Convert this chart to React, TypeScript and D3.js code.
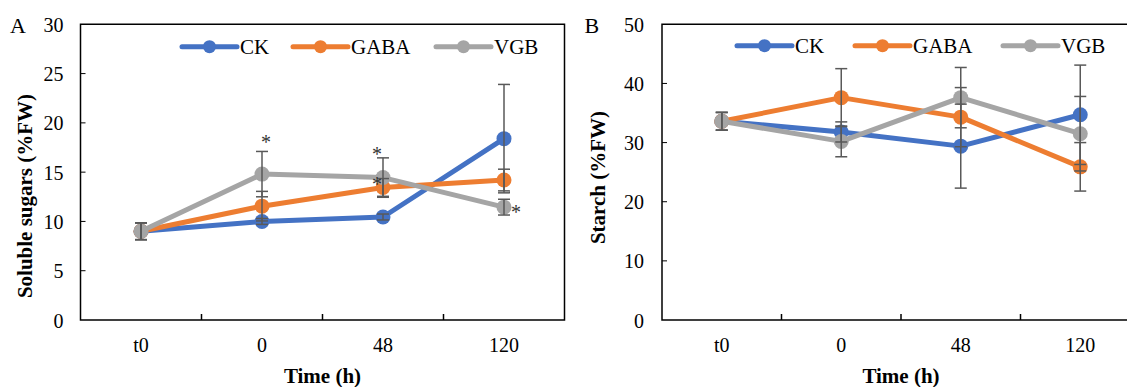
import React, { useEffect, useRef } from 'react';
import * as d3 from 'd3';

// categories and tick labels
const categories = ['t0', '0', '48', '120'];
const sugarTicks = [0, 5, 10, 15, 20, 25, 30];
const starchTicks = [0, 10, 20, 30, 40, 50];
const seriesNames = ['CK', 'GABA', 'VGB'];

// soluble sugars (%FW), mean and error
const sugarCK = [9.0, 10.0, 10.45, 18.4];
const sugarCKErr = [0.85, 0.3, 0.3, 5.5];
const sugarGABA = [9.0, 11.55, 13.45, 14.2];
const sugarGABAErr = [0.85, 1.5, 0.9, 1.1];
const sugarVGB = [9.0, 14.8, 14.45, 11.45];
const sugarVGBErr = [0.85, 2.3, 2.0, 0.8];

// starch (%FW), mean and error
const starchCK = [33.6, 31.8, 29.4, 34.7];
const starchCKErr = [1.5, 1.7, 7.1, 8.4];
const starchGABA = [33.6, 37.6, 34.3, 25.9];
const starchGABAErr = [1.5, 4.9, 5.0, 4.1];
const starchVGB = [33.6, 30.2, 37.6, 31.5];
const starchVGBErr = [1.5, 2.6, 5.1, 6.3];

// significance marks on panel A (category, value where the star sits)
const sugarStars = [
  { cat: '0', value: 18.3 },
  { cat: '48', value: 17.05 },
  { cat: '48', value: 14.0 },
  { cat: '120', value: 11.15 },
];

const colors = ['#4472C4', '#ED7D31', '#A5A5A5'];
const errColor = '#595959';
const font = '"Liberation Serif", "Times New Roman", serif';

const panels = [
  {
    letter: 'A',
    title: 'Soluble sugars (%FW)',
    ticks: sugarTicks,
    series: [sugarCK, sugarGABA, sugarVGB],
    errors: [sugarCKErr, sugarGABAErr, sugarVGBErr],
    stars: sugarStars,
    starDx: [4, -6, -6, 12],
    x0: 80.5, x1: 564.5, boxRight: 564.5,
    labelRight: 63.6, titleX: 31.5, titleY: 196, letterX: 10,
    legendX: [182, 293, 436], legendY: 46.7,
  },
  {
    letter: 'B',
    title: 'Starch (%FW)',
    ticks: starchTicks,
    series: [starchCK, starchGABA, starchVGB],
    errors: [starchCKErr, starchGABAErr, starchVGBErr],
    stars: [],
    starDx: [],
    x0: 662, x1: 1140, boxRight: 1140,
    labelRight: 644, titleX: 604.5, titleY: 177.5, letterX: 584.5,
    legendX: [737, 855, 1003], legendY: 45.7,
  },
];

const App = () => {
  const ref = useRef<SVGSVGElement>(null);

  useEffect(() => {
    const svg = d3.select(ref.current);
    svg.selectAll('*').remove();

    const top = 24.3;
    const bottom = 320;

    panels.forEach(p => {
      const g = svg.append('g');
      const x = d3.scaleBand().domain(categories).range([p.x0, p.x1]).paddingInner(0).paddingOuter(0);
      const cx = (c: string) => (x(c) as number) + x.bandwidth() / 2;
      const y = d3.scaleLinear().domain([0, p.ticks[p.ticks.length - 1]]).range([bottom, top]);

      // frame
      g.append('path')
        .attr('d', `M${p.x0},${top}H${p.boxRight}V${bottom}H${p.x0}Z`)
        .attr('fill', 'none')
        .attr('stroke', '#000')
        .attr('stroke-width', 1.5);

      // y ticks + labels
      p.ticks.forEach(t => {
        if (t !== 0 && t !== p.ticks[p.ticks.length - 1]) {
          g.append('line')
            .attr('x1', p.x0).attr('x2', p.x0 + 5)
            .attr('y1', y(t)).attr('y2', y(t))
            .attr('stroke', '#000').attr('stroke-width', 1);
        }
        g.append('text')
          .attr('x', p.labelRight)
          .attr('y', y(t) + 7.5)
          .attr('text-anchor', 'end')
          .style('font-family', font)
          .style('font-size', '20px')
          .attr('fill', '#000')
          .text(String(t));
      });

      // x ticks between categories
      categories.slice(1).forEach(c => {
        const xx = x(c) as number;
        g.append('line')
          .attr('x1', xx).attr('x2', xx)
          .attr('y1', bottom).attr('y2', bottom - 6)
          .attr('stroke', '#000').attr('stroke-width', 1.5);
      });
      categories.forEach(c => {
        g.append('text')
          .attr('x', cx(c))
          .attr('y', 352)
          .attr('text-anchor', 'middle')
          .style('font-family', font)
          .style('font-size', '20px')
          .attr('fill', '#000')
          .text(c);
      });

      // axis titles
      g.append('text')
        .attr('x', (p.x0 + p.x1) / 2)
        .attr('y', 383)
        .attr('text-anchor', 'middle')
        .style('font-family', font)
        .style('font-size', '21px')
        .style('font-weight', 'bold')
        .text('Time (h)');

      g.append('text')
        .attr('transform', `translate(${p.titleX},${p.titleY}) rotate(-90)`)
        .attr('text-anchor', 'middle')
        .style('font-family', font)
        .style('font-size', '21px')
        .style('font-weight', 'bold')
        .text(p.title);

      g.append('text')
        .attr('x', p.letterX)
        .attr('y', 33)
        .style('font-family', font)
        .style('font-size', '22px')
        .text(p.letter);

      // lines + markers
      const line = d3.line<number>()
        .x((d, i) => cx(categories[i]))
        .y(d => y(d));

      p.series.forEach((vals, si) => {
        g.append('path')
          .datum(vals)
          .attr('d', line)
          .attr('fill', 'none')
          .attr('stroke', colors[si])
          .attr('stroke-width', 5)
          .attr('stroke-linejoin', 'round');
        g.selectAll(null)
          .data(vals)
          .enter()
          .append('circle')
          .attr('cx', (d, i) => cx(categories[i]))
          .attr('cy', d => y(d))
          .attr('r', 7.5)
          .attr('fill', colors[si]);
      });

      // error bars on top
      p.series.forEach((vals, si) => {
        vals.forEach((v, i) => {
          const e = p.errors[si][i];
          const xx = cx(categories[i]);
          g.append('line')
            .attr('x1', xx).attr('x2', xx)
            .attr('y1', y(v - e)).attr('y2', y(v + e))
            .attr('stroke', errColor).attr('stroke-width', 1.5);
          [v - e, v + e].forEach(w => {
            g.append('line')
              .attr('x1', xx - 6).attr('x2', xx + 6)
              .attr('y1', y(w)).attr('y2', y(w))
              .attr('stroke', errColor).attr('stroke-width', 1.5);
          });
        });
      });

      // stars
      p.stars.forEach((s, i) => {
        g.append('text')
          .attr('x', cx(s.cat) + p.starDx[i])
          .attr('y', y(s.value) + 9)
          .attr('text-anchor', 'middle')
          .style('font-family', font)
          .style('font-size', '20px')
          .attr('fill', '#333')
          .text('*');
      });

      // legend
      seriesNames.forEach((name, si) => {
        const lx = p.legendX[si];
        g.append('line')
          .attr('x1', lx).attr('x2', lx + 55)
          .attr('y1', p.legendY).attr('y2', p.legendY)
          .attr('stroke', colors[si]).attr('stroke-width', 5)
          .attr('stroke-linecap', 'round');
        g.append('circle')
          .attr('cx', lx + 27.5).attr('cy', p.legendY)
          .attr('r', 6.5).attr('fill', colors[si]);
        g.append('text')
          .attr('x', lx + 58)
          .attr('y', p.legendY + 7)
          .style('font-family', font)
          .style('font-size', '21px')
          .attr('fill', '#000')
          .text(name);
      });
    });
  }, []);

  return (
    <div style={{ position: 'fixed', left: 0, top: 0, background: '#fff' }}>
      <svg ref={ref} width={1127} height={387} style={{ display: 'block' }}></svg>
    </div>
  );
};

export default App;
